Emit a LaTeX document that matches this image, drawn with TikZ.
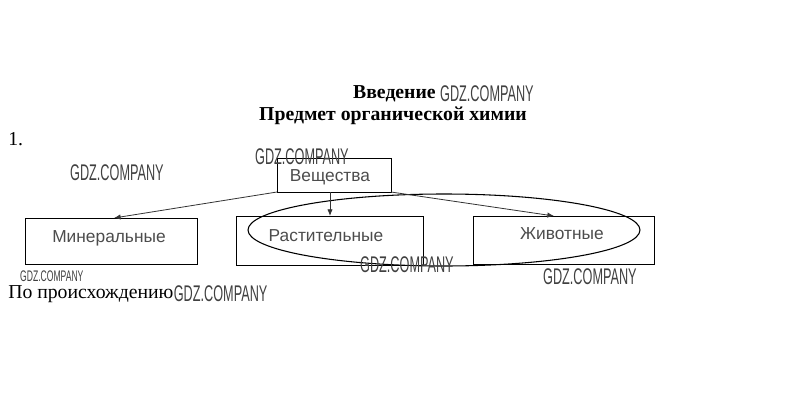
\documentclass[tikz,border=0pt]{standalone}
\usepackage{fontspec}
\setmainfont{Liberation Serif}
\setsansfont{Liberation Sans}
\usetikzlibrary{arrows.meta}
\tikzset{
  wm/.style={text=black!75, font=\sffamily\fontsize{17}{17}\selectfont, xscale=0.56, inner sep=0, anchor=west},
  wms/.style={text=black!75, font=\sffamily\fontsize{11.5}{11.5}\selectfont, xscale=0.56, inner sep=0, anchor=west},
  box/.style={draw, line width=0.7pt, inner sep=0},
  boxtext/.style={font=\sffamily\fontsize{13}{13}\selectfont, text=black!70, inner sep=1pt},
  arr/.style={-{Latex[length=5pt,width=4pt]}, line width=0.6pt, black!80},
  title/.style={font=\bfseries\fontsize{14.8}{14.8}\selectfont, inner sep=0},
  plain/.style={font=\fontsize{14.8}{14.8}\selectfont, inner sep=0}
}
\begin{document}
\begin{tikzpicture}[x=0.75pt,y=-0.75pt]
\useasboundingbox (0,0) rectangle (808,400);
% titles
\node[title, anchor=east] (intro) at (436,94) {Введение};
\node[wm] (w1) at (440,94) {GDZ.COMPANY};
\node[title] (subj) at (393,116) {Предмет органической химии};
\node[plain, anchor=west] (num) at (8,139) {1.};
% boxes
\draw[box] (277,158) rectangle (391,192);
\node[boxtext] (sub) at (330,177) {Вещества};
\draw[box] (25,218) rectangle (197,264);
\node[boxtext] (min) at (109,238) {Минеральные};
\draw[box] (236,216) rectangle (423,265);
\node[boxtext] (rast) at (326,236) {Растительные};
\draw[box] (473,216) rectangle (654,264);
\node[boxtext] (ziv) at (562,234) {Животные};
% ellipse
\draw[line width=0.8pt] (444,230) ellipse [x radius=196, y radius=36];
% arrows
\coordinate (s1) at (277,192);
\coordinate (s2) at (330,192);
\coordinate (s3) at (391,192);
\coordinate (t1) at (114,218);
\coordinate (t2) at (330,216);
\coordinate (t3) at (554,216);
\draw[arr] (s1) -- (t1);
\draw[arr] (s2) -- (t2);
\draw[arr] (s3) -- (t3);
% watermarks
\node[wm] (w2) at (70,173) {GDZ.COMPANY};
\node[wm] (w3) at (255,157) {GDZ.COMPANY};
\node[wm] (w4) at (360,265) {GDZ.COMPANY};
\node[wm] (w5) at (543,277) {GDZ.COMPANY};
\node[wms] (w6) at (20,276) {GDZ.COMPANY};
\node[plain, anchor=west] (orig) at (8,294) {По происхождению};
\node[wm] (w7) at (orig.east) {GDZ.COMPANY};
\end{tikzpicture}
\end{document}
